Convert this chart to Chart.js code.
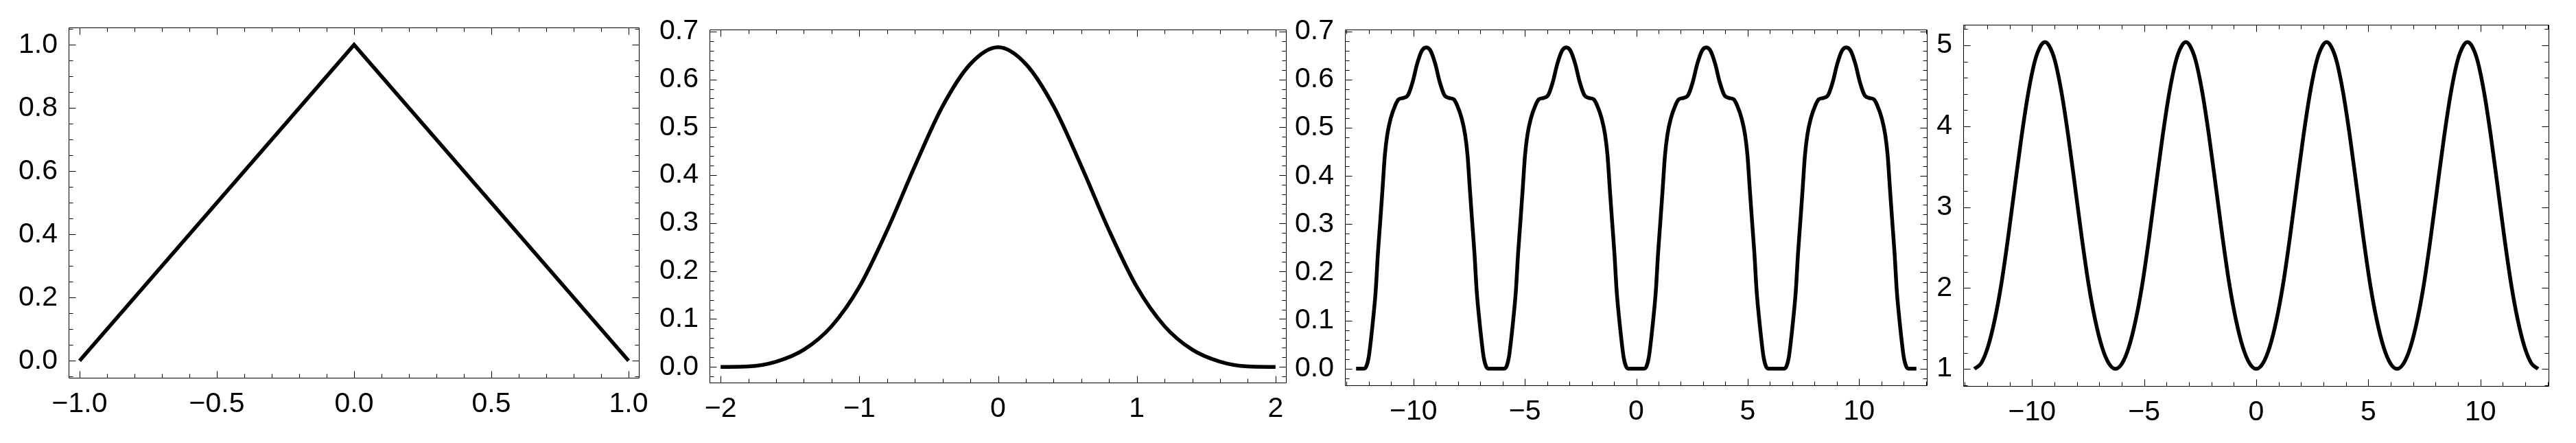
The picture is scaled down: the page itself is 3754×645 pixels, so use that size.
<!DOCTYPE html>
<html>
<head>
<meta charset="utf-8">
<script src="https://cdn.jsdelivr.net/npm/chart.js@4.4.1/dist/chart.umd.min.js"></script>
<style>
  html, body { margin: 0; padding: 0; background: #fff; }
  body { width: 3754px; height: 645px; position: relative; overflow: hidden; }
  canvas { position: absolute; top: 0; }
</style>
</head>
<body>
<canvas id="p1"></canvas>
<canvas id="p2"></canvas>
<canvas id="p3"></canvas>
<canvas id="p4"></canvas>
<script>
// ---- data ----

// panel 1: triangle
const tri_x = [-1, 0, 1];
const tri_y = [0, 1, 0];

// panel 2: bell curve
const bell_x = [-2, -1.8, -1.6, -1.4, -1.2, -1, -0.8, -0.6, -0.4, -0.2, 0,
  0.2, 0.4, 0.6, 0.8, 1, 1.2, 1.4, 1.6, 1.8, 2];
const bell_y = [0, 0.001, 0.011, 0.036, 0.085, 0.167, 0.285, 0.419, 0.544, 0.632, 0.667,
  0.632, 0.544, 0.419, 0.285, 0.167, 0.085, 0.036, 0.011, 0.001, 0];

// panel 3: periodic with shoulders
const shoulder_x = [
  -12.57, -12.21, -12.10, -12.00, -11.90, -11.79, -11.69, -11.59, -11.48, -11.38, -11.28, -11.17, -11.02, -10.81, -10.66, -10.45, -10.24, -10.04, -9.83, -9.62,
  -9.42, -9.23, -9.02, -8.81, -8.61, -8.40, -8.19, -8.04, -7.83, -7.68, -7.57, -7.47, -7.37, -7.26, -7.16, -7.06, -6.95, -6.85, -6.75, -6.64,
  -6.28, -5.92, -5.81, -5.71, -5.61, -5.50, -5.40, -5.30, -5.19, -5.09, -4.99, -4.88, -4.73, -4.52, -4.37, -4.16, -3.95, -3.75, -3.54, -3.33,
  -3.14, -2.95, -2.74, -2.53, -2.33, -2.12, -1.91, -1.76, -1.55, -1.40, -1.29, -1.19, -1.09, -0.98, -0.88, -0.78, -0.67, -0.57, -0.47, -0.36,
  0,
  0.36, 0.47, 0.57, 0.67, 0.78, 0.88, 0.98, 1.09, 1.19, 1.29, 1.40, 1.55, 1.76, 1.91, 2.12, 2.33, 2.53, 2.74, 2.95, 3.14,
  3.33, 3.54, 3.75, 3.95, 4.16, 4.37, 4.52, 4.73, 4.88, 4.99, 5.09, 5.19, 5.30, 5.40, 5.50, 5.61, 5.71, 5.81, 5.92, 6.28,
  6.64, 6.75, 6.85, 6.95, 7.06, 7.16, 7.26, 7.37, 7.47, 7.57, 7.68, 7.83, 8.04, 8.19, 8.40, 8.61, 8.81, 9.02, 9.23, 9.42,
  9.62, 9.83, 10.04, 10.24, 10.45, 10.66, 10.81, 11.02, 11.17, 11.28, 11.38, 11.48, 11.59, 11.69, 11.79, 11.90, 12.00, 12.10, 12.21, 12.57
];
const shoulder_y = [
  0, 0, 0.006, 0.025, 0.062, 0.110, 0.162, 0.240, 0.310, 0.376, 0.443, 0.486, 0.519, 0.547, 0.559, 0.562, 0.568, 0.594, 0.633, 0.660,
  0.667, 0.660, 0.633, 0.594, 0.568, 0.562, 0.559, 0.547, 0.519, 0.486, 0.443, 0.376, 0.310, 0.240, 0.162, 0.110, 0.062, 0.025, 0.006, 0,
  0, 0, 0.006, 0.025, 0.062, 0.110, 0.162, 0.240, 0.310, 0.376, 0.443, 0.486, 0.519, 0.547, 0.559, 0.562, 0.568, 0.594, 0.633, 0.660,
  0.667, 0.660, 0.633, 0.594, 0.568, 0.562, 0.559, 0.547, 0.519, 0.486, 0.443, 0.376, 0.310, 0.240, 0.162, 0.110, 0.062, 0.025, 0.006, 0,
  0,
  0, 0.006, 0.025, 0.062, 0.110, 0.162, 0.240, 0.310, 0.376, 0.443, 0.486, 0.519, 0.547, 0.559, 0.562, 0.568, 0.594, 0.633, 0.660, 0.667,
  0.660, 0.633, 0.594, 0.568, 0.562, 0.559, 0.547, 0.519, 0.486, 0.443, 0.376, 0.310, 0.240, 0.162, 0.110, 0.062, 0.025, 0.006, 0, 0,
  0, 0.006, 0.025, 0.062, 0.110, 0.162, 0.240, 0.310, 0.376, 0.443, 0.486, 0.519, 0.547, 0.559, 0.562, 0.568, 0.594, 0.633, 0.660, 0.667,
  0.660, 0.633, 0.594, 0.568, 0.562, 0.559, 0.547, 0.519, 0.486, 0.443, 0.376, 0.310, 0.240, 0.162, 0.110, 0.062, 0.025, 0.006, 0, 0
];

// panel 4: periodic peaks between 1 and 5
const wave_x = [
  -12.57, -12.27, -11.97, -11.67, -11.37, -11.07, -10.77, -10.47, -10.17, -9.87, -9.62,
  -9.42, -9.23, -8.98, -8.68, -8.38, -8.08, -7.78, -7.48, -7.18, -6.88, -6.58,
  -6.28, -5.98, -5.68, -5.38, -5.08, -4.78, -4.48, -4.18, -3.88, -3.58, -3.33,
  -3.14, -2.95, -2.7, -2.4, -2.1, -1.8, -1.5, -1.2, -0.9, -0.6, -0.3,
  0,
  0.3, 0.6, 0.9, 1.2, 1.5, 1.8, 2.1, 2.4, 2.7, 2.95, 3.14,
  3.33, 3.58, 3.88, 4.18, 4.48, 4.78, 5.08, 5.38, 5.68, 5.98, 6.28,
  6.58, 6.88, 7.18, 7.48, 7.78, 8.08, 8.38, 8.68, 8.98, 9.23, 9.42,
  9.62, 9.87, 10.17, 10.47, 10.77, 11.07, 11.37, 11.67, 11.97, 12.27, 12.57
];
const wave_y = [
  1.00, 1.07, 1.27, 1.60, 2.05, 2.62, 3.25, 3.87, 4.41, 4.81, 4.99,
  5.04, 4.99, 4.81, 4.41, 3.87, 3.25, 2.62, 2.05, 1.60, 1.27, 1.07,
  1.00, 1.07, 1.27, 1.60, 2.05, 2.62, 3.25, 3.87, 4.41, 4.81, 4.99,
  5.04, 4.99, 4.81, 4.41, 3.87, 3.25, 2.62, 2.05, 1.60, 1.27, 1.07,
  1.00,
  1.07, 1.27, 1.60, 2.05, 2.62, 3.25, 3.87, 4.41, 4.81, 4.99, 5.04,
  4.99, 4.81, 4.41, 3.87, 3.25, 2.62, 2.05, 1.60, 1.27, 1.07, 1.00,
  1.07, 1.27, 1.60, 2.05, 2.62, 3.25, 3.87, 4.41, 4.81, 4.99, 5.04,
  4.99, 4.81, 4.41, 3.87, 3.25, 2.62, 2.05, 1.60, 1.27, 1.07, 1.00
];

// tick values and labels
const tri_xticks = [-1, -0.5, 0, 0.5, 1];
const tri_xlabels = ['\u22121.0', '\u22120.5', '0.0', '0.5', '1.0'];
const tri_yticks = [0, 0.2, 0.4, 0.6, 0.8, 1];
const tri_ylabels = ['0.0', '0.2', '0.4', '0.6', '0.8', '1.0'];

const bell_xticks = [-2, -1, 0, 1, 2];
const bell_xlabels = ['\u22122', '\u22121', '0', '1', '2'];
const small_yticks = [0, 0.1, 0.2, 0.3, 0.4, 0.5, 0.6, 0.7];
const small_ylabels = ['0.0', '0.1', '0.2', '0.3', '0.4', '0.5', '0.6', '0.7'];

const wide_xticks = [-10, -5, 0, 5, 10];
const wide_xlabels = ['\u221210', '\u22125', '0', '5', '10'];
const wave_yticks = [1, 2, 3, 4, 5];
const wave_ylabels = ['1', '2', '3', '4', '5'];

// ---- drawing ----
const H = 645;
const Y_AXIS_W = 100;
const RIGHT_PAD = 40;
const tickFont = { family: '"Liberation Sans", Arial, sans-serif', size: 41, lineHeight: 1.2 };

// frame on all four sides with inward major/minor ticks (Mathematica style)
const frameTicks = {
  id: 'frameTicks',
  afterDraw(chart, args, opts) {
    const { ctx, chartArea: a, scales: { x, y } } = chart;
    const L = Math.round(a.left) + 0.5, R = Math.round(a.right) - 0.5;
    const T = Math.round(a.top) + 0.5, B = Math.round(a.bottom) - 0.5;
    ctx.save();
    ctx.strokeStyle = '#000';
    ctx.lineWidth = 1;
    ctx.beginPath();
    ctx.rect(L, T, R - L, B - T);

    const near = (v, list) => list.some(t => Math.abs(t - v) < 1e-9);
    const xMarks = (v, len) => {
      const p = Math.round(x.getPixelForValue(v)) + 0.5;
      ctx.moveTo(p, B); ctx.lineTo(p, B - len);
      ctx.moveTo(p, T); ctx.lineTo(p, T + len);
    };
    const yMarks = (v, len) => {
      const p = Math.round(y.getPixelForValue(v)) + 0.5;
      ctx.moveTo(L, p); ctx.lineTo(L + len, p);
      ctx.moveTo(R, p); ctx.lineTo(R - len, p);
    };
    const xMajor = x.ticks.map(t => t.value);
    const yMajor = y.ticks.map(t => t.value);
    xMajor.forEach(v => xMarks(v, 10));
    yMajor.forEach(v => yMarks(v, 10));
    for (let k = Math.ceil(x.min / opts.xMinor); k * opts.xMinor <= x.max; k++) {
      const v = +(k * opts.xMinor).toFixed(6);
      if (!near(v, xMajor)) xMarks(v, 6);
    }
    for (let k = Math.ceil(y.min / opts.yMinor); k * opts.yMinor <= y.max; k++) {
      const v = +(k * opts.yMinor).toFixed(6);
      if (!near(v, yMajor)) yMarks(v, 6);
    }
    ctx.stroke();
    ctx.restore();
  }
};

function makePanel(id, frame, xs, ys, xr, yr, xt, xl, yt, yl, minors, smooth) {
  const canvas = document.getElementById(id);
  const w = frame.right - frame.left + Y_AXIS_W + RIGHT_PAD;
  canvas.width = w;
  canvas.height = H;
  canvas.style.left = (frame.left - Y_AXIS_W) + 'px';
  canvas.style.width = w + 'px';
  canvas.style.height = H + 'px';

  return new Chart(canvas.getContext('2d'), {
    type: 'scatter',
    data: {
      datasets: [{
        data: xs.map((v, i) => ({ x: v, y: ys[i] })),
        showLine: true,
        borderColor: '#000',
        borderWidth: 5.5,
        pointRadius: 0,
        fill: false,
        cubicInterpolationMode: smooth ? 'monotone' : 'default',
        tension: 0,
        borderJoinStyle: smooth ? 'round' : 'miter',
      }],
    },
    options: {
      responsive: false,
      animation: false,
      devicePixelRatio: 1,
      layout: { padding: { top: frame.top, right: RIGHT_PAD, left: 0, bottom: 0 } },
      plugins: { legend: { display: false }, tooltip: { enabled: false }, frameTicks: minors },
      scales: {
        x: {
          type: 'linear', position: 'bottom', min: xr[0], max: xr[1],
          grid: { display: false }, border: { display: false },
          afterBuildTicks: s => { s.ticks = xt.map(v => ({ value: v })); },
          afterFit: s => { s.height = H - frame.bottom; s.paddingLeft = 0; s.paddingRight = 0; },
          ticks: { font: tickFont, color: '#000', padding: 5, autoSkip: false, maxRotation: 0,
                   callback: (v, i) => xl[i] },
        },
        y: {
          type: 'linear', position: 'left', min: yr[0], max: yr[1],
          grid: { display: false }, border: { display: false },
          afterBuildTicks: s => { s.ticks = yt.map(v => ({ value: v })); },
          afterFit: s => { s.width = Y_AXIS_W; s.paddingTop = 0; s.paddingBottom = 0; },
          ticks: { font: tickFont, color: '#000', padding: 8, autoSkip: false,
                   callback: (v, i) => yl[i] },
        },
      },
    },
    plugins: [frameTicks],
  });
}

makePanel('p1', { left: 100, right: 932, top: 40, bottom: 551 }, tri_x, tri_y,
  [-1.04, 1.04], [-0.056, 1.055], tri_xticks, tri_xlabels, tri_yticks, tri_ylabels,
  { xMinor: 0.1, yMinor: 0.05 }, false);

makePanel('p2', { left: 1034, right: 1875, top: 43, bottom: 558 }, bell_x, bell_y,
  [-2.08, 2.08], [-0.034, 0.704], bell_xticks, bell_xlabels, small_yticks, small_ylabels,
  { xMinor: 0.2, yMinor: 0.02 }, true);

makePanel('p3', { left: 1960, right: 2809, top: 43, bottom: 562 }, shoulder_x, shoulder_y,
  [-13.07, 13.07], [-0.036, 0.704], wide_xticks, wide_xlabels, small_yticks, small_ylabels,
  { xMinor: 1, yMinor: 0.02 }, true);

makePanel('p4', { left: 2861, right: 3715, top: 36, bottom: 563 }, wave_x, wave_y,
  [-13.07, 13.07], [0.78, 5.255], wide_xticks, wide_xlabels, wave_yticks, wave_ylabels,
  { xMinor: 1, yMinor: 0.2 }, true);
</script>
</body>
</html>
